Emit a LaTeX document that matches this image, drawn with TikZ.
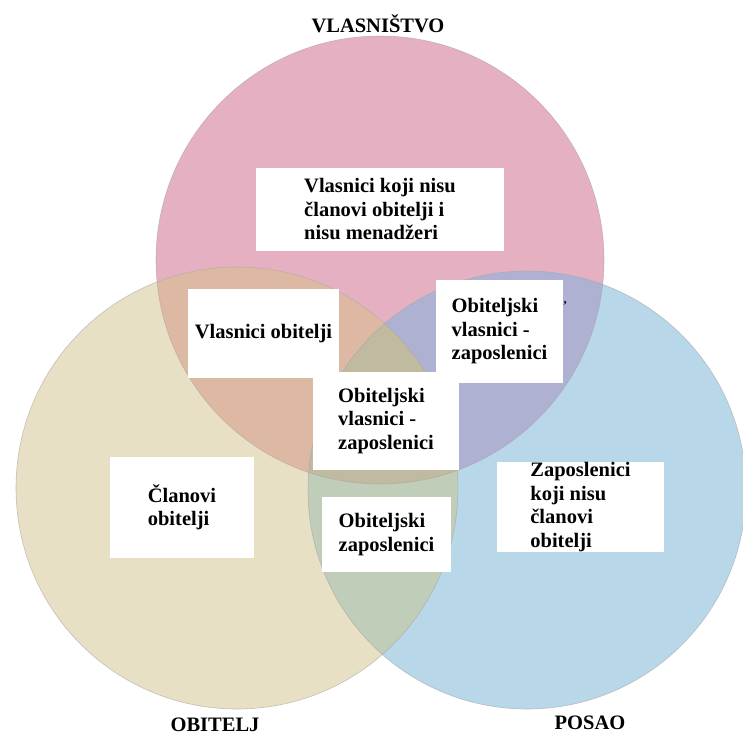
\documentclass[tikz,border=0pt]{standalone}
\usepackage{fontspec}
\setmainfont{Liberation Serif}
\definecolor{pinkc}{RGB}{229,177,194}
\definecolor{beigec}{RGB}{232,224,197}
\definecolor{bluec}{RGB}{184,216,234}
\definecolor{pinkbeige}{RGB}{221,185,164}
\definecolor{pinkblue}{RGB}{174,177,210}
\definecolor{beigeblue}{RGB}{192,205,184}
\definecolor{allthree}{RGB}{192,186,160}
\definecolor{rimc}{RGB}{170,160,160}
\begin{document}
\begin{tikzpicture}[x=1pt,y=-1pt,
  txt/.style={font=\bfseries\fontsize{20.5}{23.5}\selectfont},
  box/.style={txt, fill=white, inner sep=0pt, align=left},
  rim/.style={draw=rimc, draw opacity=0.6, line width=0.6pt}]
\useasboundingbox[fill=white] (0,0) rectangle (743,740);
\coordinate (P) at (380,260);
\coordinate (L) at (237,488);
\coordinate (R) at (527,490);
\def\rP{224pt}\def\rL{221pt}\def\rR{219pt}
% base circles
\fill[pinkc] (P) circle[radius=\rP];
\fill[beigec] (L) circle[radius=\rL];
\fill[bluec] (R) circle[radius=\rR];
% pairwise overlaps
\begin{scope}\clip (P) circle[radius=\rP];
  \fill[pinkbeige] (L) circle[radius=\rL];
  \fill[pinkblue] (R) circle[radius=\rR];
\end{scope}
\begin{scope}\clip (L) circle[radius=\rL];
  \fill[beigeblue] (R) circle[radius=\rR];
\end{scope}
\begin{scope}\clip (P) circle[radius=\rP];\clip (L) circle[radius=\rL];
  \fill[allthree] (R) circle[radius=\rR];
\end{scope}
% outlines
\draw[rim] (P) circle[radius=\rP];
\draw[rim] (L) circle[radius=\rL];
\draw[rim] (R) circle[radius=\rR];
% boxes
\node[box, minimum width=248pt, minimum height=83pt] (own) at (380,209.5)
  {Vlasnici koji nisu\\članovi obitelji i\\nisu menadžeri};
\node[box, minimum width=151pt, minimum height=89pt] (fown) at (263.5,333.5)
  {Vlasnici obitelji};
\node[box, minimum width=127pt, minimum height=103pt] (fownemp1) at (499.5,331.5)
  {Obiteljski\\vlasnici -\\zaposlenici};
\node[box, minimum width=146pt, minimum height=98pt] (fownemp2) at (386,421)
  {Obiteljski\\vlasnici -\\zaposlenici};
\node[box, minimum width=144pt, minimum height=101pt] (fam) at (182,507.5)
  {Članovi\\obitelji};
\node[box, minimum width=129pt, minimum height=75pt] (famemp) at (386.5,534.5)
  {Obiteljski\\zaposlenici};
\node[box, minimum width=167pt, minimum height=90pt] (emp) at (580.5,507)
  {Zaposlenici\\koji nisu\\članovi\\obitelji};
\node[font=\bfseries\fontsize{12}{12}\selectfont, inner sep=0pt] (mark) at (565,305) {’};
% circle labels
\node[txt] (lown) at (378,24) {VLASNIŠTVO};
\node[txt] (lfam) at (215,725) {OBITELJ};
\node[txt] (lbus) at (590,723) {POSAO};
\end{tikzpicture}
\end{document}
